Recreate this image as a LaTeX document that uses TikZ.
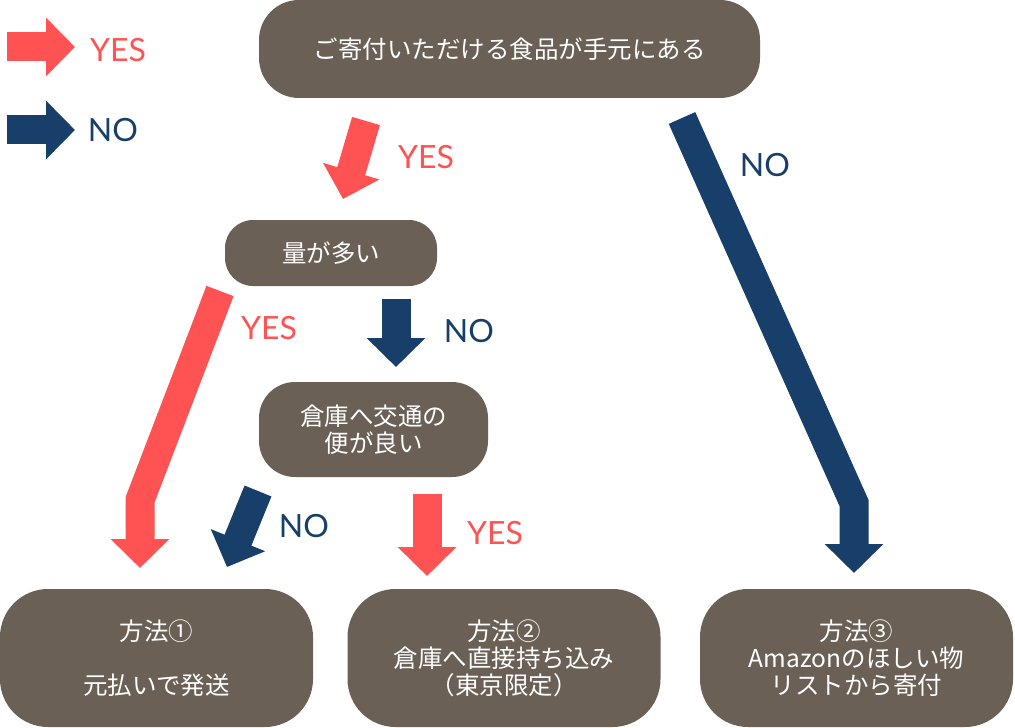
\documentclass[tikz,border=0pt]{standalone}
\usepackage{fontspec}
\setmainfont{Noto Sans CJK JP}
\newfontfamily\latofont{Lato}
\usetikzlibrary{arrows.meta, positioning}
\definecolor{rojo}{HTML}{FF5252}
\definecolor{marino}{HTML}{183E6A}
\definecolor{caja}{HTML}{6B6056}
\tikzstyle{flecha} = [line width=14.5pt, line join=miter, -{Triangle[length=14.5pt, width=28.5pt]}]
\tikzstyle{caja} = [fill=caja, text=white, inner sep=0pt, align=center, font=\fontsize{12.25pt}{13.5pt}\selectfont]
\tikzstyle{etiqueta} = [font=\latofont\fontsize{16pt}{18pt}\selectfont]

\begin{document}
\begin{tikzpicture}[x=0.5pt, y=-0.5pt]
		\useasboundingbox (0,0) rectangle (1015,727);
		
		% Cajas de preguntas
		\node[caja, minimum width=250.5pt, minimum height=49pt, rounded corners=20pt] (tengo) at (509.5,49) {ご寄付いただける食品が手元にある};
		\node[caja, minimum width=106pt, minimum height=33pt, rounded corners=14pt] (mucho) at (331,253) {量が多い};
		\node[caja, minimum width=114.5pt, minimum height=47.5pt, rounded corners=18pt] (acceso) at (373.5,429.5) {倉庫へ交通の\\便が良い};
		
		% Cajas de metodos
		\node[caja, minimum width=156.5pt, minimum height=69pt, rounded corners=24pt] (metodo1) at (156.5,658) {方法①\\[13.5pt]元払いで発送};
		\node[caja, minimum width=156.5pt, minimum height=69pt, rounded corners=24pt] (metodo2) at (504,658) {方法②\\倉庫へ直接持ち込み\\（東京限定）};
		\node[caja, minimum width=156.5pt, minimum height=69pt, rounded corners=24pt] (metodo3) at (856.5,658) {方法③\\Amazonのほしい物\\リストから寄付};
		
		% Puntos de las flechas
		\coordinate (leyS1) at (7,47);     \coordinate (leyE1) at (75,47);
		\coordinate (leyS2) at (7,130);    \coordinate (leyE2) at (75,130);
		\coordinate (f1S) at (366,121);    \coordinate (f1E) at (343,199);
		\coordinate (f2S) at (396,299);    \coordinate (f2E) at (396,367);
		\coordinate (f3S) at (220,291);    \coordinate (f3B) at (140,500);    \coordinate (f3E) at (140,568);
		\coordinate (f4S) at (258,491);    \coordinate (f4E) at (227,567);
		\coordinate (f5S) at (427,494);    \coordinate (f5E) at (427,576);
		\coordinate (f6S) at (682,118);    \coordinate (f6B) at (854,503);    \coordinate (f6E) at (854,573);
		
		% Leyenda
		\draw[flecha, rojo] (leyS1) -- (leyE1);
		\draw[flecha, marino] (leyS2) -- (leyE2);
		\node[etiqueta, text=rojo] (leyYes) at (118,50) {YES};
		\node[etiqueta, text=marino] (leyNo) at (113,130) {NO};
		
		% Flechas YES
		\draw[flecha, rojo] (f1S) -- (f1E);
		\draw[flecha, rojo] (f3S) -- (f3B) -- (f3E);
		\draw[flecha, rojo] (f5S) -- (f5E);
		
		% Flechas NO
		\draw[flecha, marino] (f2S) -- (f2E);
		\draw[flecha, marino] (f4S) -- (f4E);
		\draw[flecha, marino] (f6S) -- (f6B) -- (f6E);
		
		% Etiquetas de las flechas
		\node[etiqueta, text=rojo] (yes1) at (426,157) {YES};
		\node[etiqueta, text=rojo] (yes3) at (269,328) {YES};
		\node[etiqueta, text=rojo] (yes5) at (495,533) {YES};
		\node[etiqueta, text=marino] (no2) at (469,331) {NO};
		\node[etiqueta, text=marino] (no4) at (304,526) {NO};
		\node[etiqueta, text=marino] (no6) at (765,165) {NO};
	\end{tikzpicture}
\end{document}
